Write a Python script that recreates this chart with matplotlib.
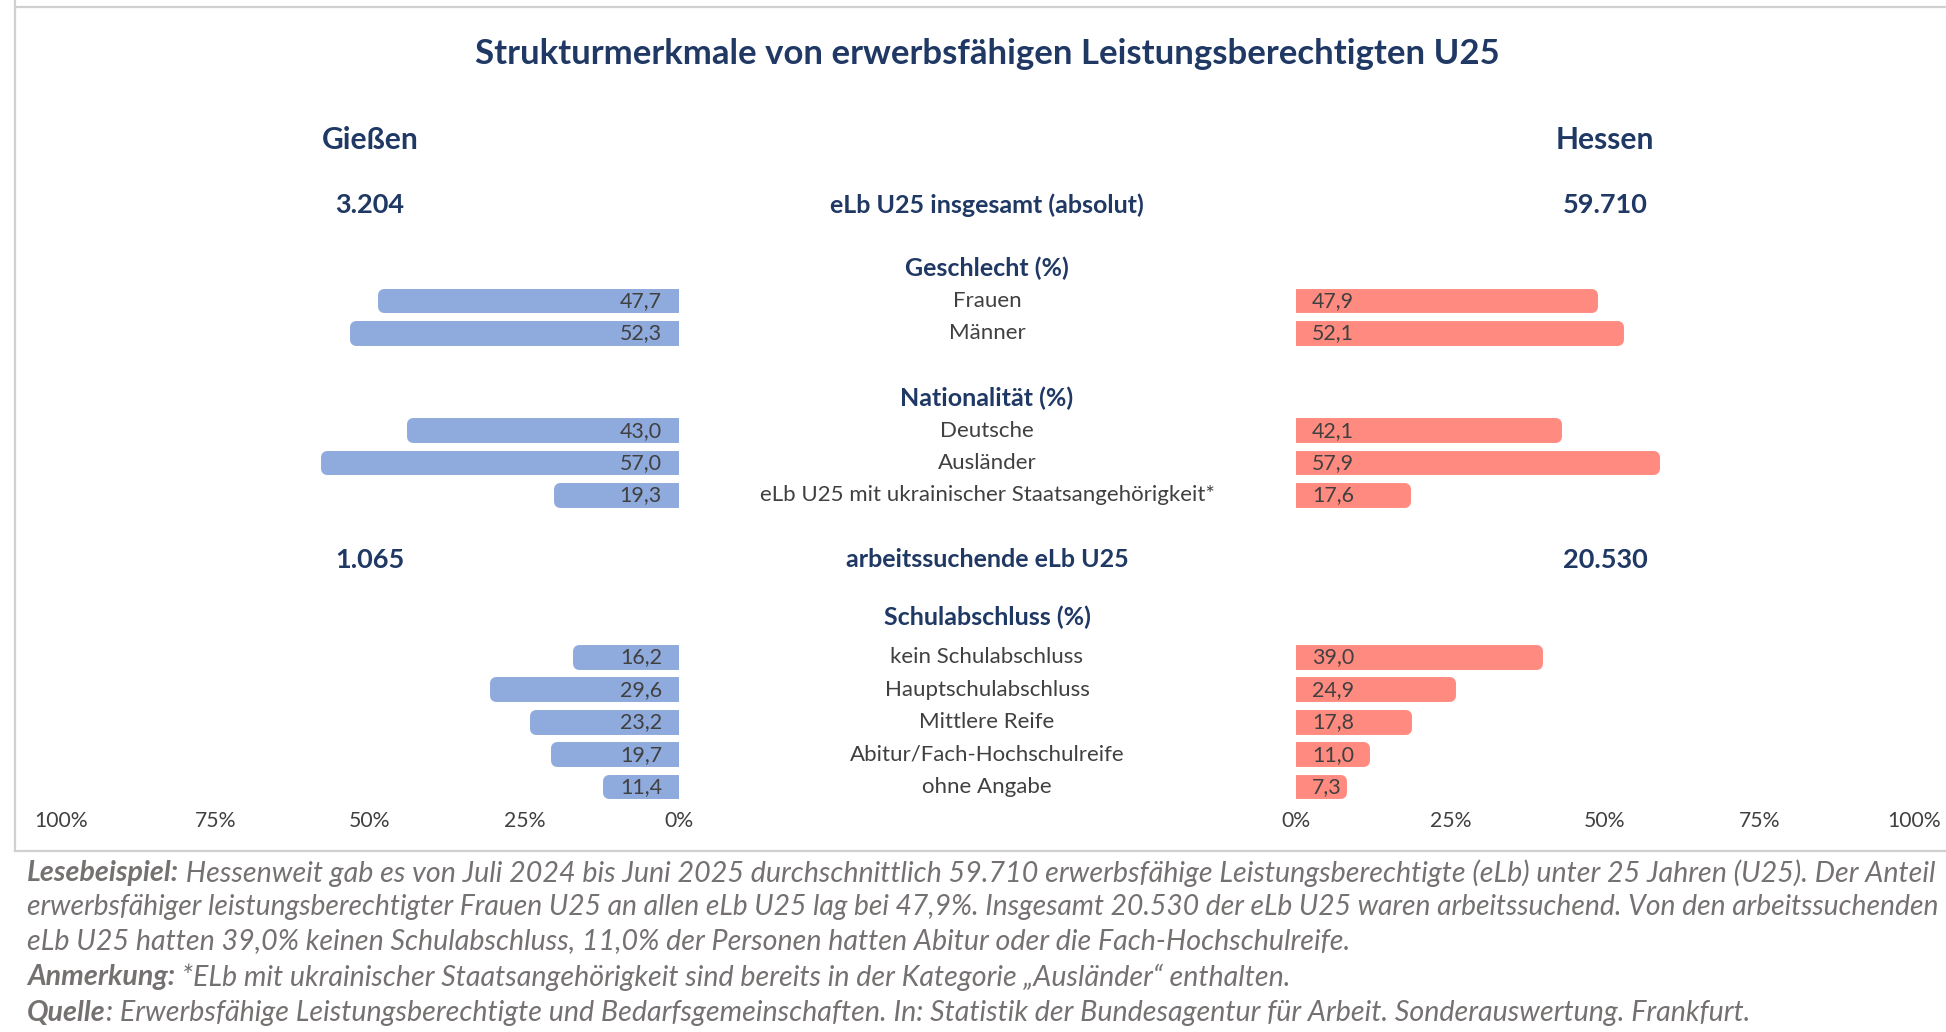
import matplotlib.pyplot as plt
from matplotlib.lines import Line2D
from matplotlib.transforms import blended_transform_factory

plt.rcParams['font.family'] = ['Lato', 'DejaVu Sans']

# Daten
regionen = ['Gießen', 'Hessen']
elb_gesamt = ['3.204', '59.710']
elb_arbeitssuchend = ['1.065', '20.530']

geschlecht_kat = ['Frauen', 'Männer']
geschlecht_giessen = [47.7, 52.3]
geschlecht_hessen = [47.9, 52.1]

nationalitaet_kat = ['Deutsche', 'Ausländer', 'eLb U25 mit ukrainischer Staatsangehörigkeit*']
nationalitaet_giessen = [43.0, 57.0, 19.3]
nationalitaet_hessen = [42.1, 57.9, 17.6]

schule_kat = ['kein Schulabschluss', 'Hauptschulabschluss', 'Mittlere Reife',
              'Abitur/Fach-Hochschulreife', 'ohne Angabe']
schule_giessen = [16.2, 29.6, 23.2, 19.7, 11.4]
schule_hessen = [39.0, 24.9, 17.8, 11.0, 7.3]

ticks = [0, 25, 50, 75, 100]

NAVY = '#1F3864'
GRAU = '#404040'
BLAU = '#8FAADC'
ROT = '#FF8B80'
FUSS = '#767171'

W, H = 1946, 1032
fig = plt.figure(figsize=(W / 100, H / 100), dpi=100)


def zeile(px):
    # Pixelhoehe -> Zeileneinheit (Frauen = 0)
    return (px - 301) / 32.4


oben, unten = 250, 810
ax_l = fig.add_axes([61 / W, 1 - unten / H, 618 / W, (unten - oben) / H])
ax_r = fig.add_axes([1296 / W, 1 - unten / H, 618 / W, (unten - oben) / H])
ax_l.set_xlim(100, 0)
ax_r.set_xlim(0, 100)

gruppen = [
    (0, geschlecht_kat, geschlecht_giessen, geschlecht_hessen),
    (4, nationalitaet_kat, nationalitaet_giessen, nationalitaet_hessen),
    (11, schule_kat, schule_giessen, schule_hessen),
]

trans = blended_transform_factory(fig.transFigure, ax_l.transData)
mitte = 987 / W
x_gi = 370 / W
x_he = 1605 / W

for start, kat, gi, he in gruppen:
    ys = [start + i for i in range(len(kat))]
    for ax, werte, farbe, dx, ha in [(ax_l, gi, BLAU, -17, 'right'),
                                     (ax_r, he, ROT, 16, 'left')]:
        bars = ax.barh(ys, werte, height=0.40, color=farbe, edgecolor=farbe,
                       linewidth=8.6)
        for b in bars:
            b.set_joinstyle('round')
        for y, v in zip(ys, werte):
            ax.annotate(f'{v:.1f}'.replace('.', ','), (0, y), xytext=(dx, 0),
                        textcoords='offset pixels', ha=ha, va='center',
                        fontsize=15.4, color=GRAU)
    for y, k in zip(ys, kat):
        fig.text(mitte, y, k, transform=trans, ha='center', va='center',
                 fontsize=16, color=GRAU)

for ax in (ax_l, ax_r):
    ax.set_ylim(zeile(unten), zeile(oben))
    for s in ax.spines.values():
        s.set_visible(False)
    ax.set_yticks([])
    ax.set_xticks(ticks)
    ax.set_xticklabels([f'{t}%' for t in ticks], fontsize=15.2, color=GRAU)
    ax.tick_params(axis='x', length=0, pad=1)
    ax.patch.set_alpha(0)

# Ueberschriften
kopf = dict(ha='center', va='center', color=NAVY, fontweight='bold')
fig.text(mitte, 1 - 54 / H, 'Strukturmerkmale von erwerbsfähigen Leistungsberechtigten U25',
         fontsize=25, **kopf)
fig.text(x_gi, 1 - 140 / H, regionen[0], fontsize=21.6, **kopf)
fig.text(x_he, 1 - 140 / H, regionen[1], fontsize=21.6, **kopf)

for y, txt in [(-2.96, 'eLb U25 insgesamt (absolut)'), (-1, 'Geschlecht (%)'),
               (3, 'Nationalität (%)'), (7.99, 'arbeitssuchende eLb U25'),
               (9.75, 'Schulabschluss (%)')]:
    fig.text(mitte, y, txt, transform=trans, fontsize=18, **kopf)

fig.text(x_gi, -2.96, elb_gesamt[0], transform=trans, fontsize=19.5, **kopf)
fig.text(x_he, -2.96, elb_gesamt[1], transform=trans, fontsize=19.5, **kopf)
fig.text(x_gi, 7.99, elb_arbeitssuchend[0], transform=trans, fontsize=19.5, **kopf)
fig.text(x_he, 7.99, elb_arbeitssuchend[1], transform=trans, fontsize=19.5, **kopf)

# Rahmen
linie = dict(color='#D0D0D0', linewidth=1.6, transform=fig.transFigure)
fig.add_artist(Line2D([15 / W, 15 / W], [1, 1 - 851 / H], **linie))
fig.add_artist(Line2D([15 / W, 1], [1 - 7 / H, 1 - 7 / H], **linie))
fig.add_artist(Line2D([15 / W, 1], [1 - 851 / H, 1 - 851 / H], **linie))

# Fusszeilen (die ersten beiden Zeilen sind im Original bis zum rechten Rand gesetzt)
fuss = [
    (873, 'Lesebeispiel:', ' Hessenweit gab es von Juli 2024 bis Juni 2025 durchschnittlich 59.710 '
     'erwerbsfähige Leistungsberechtigte (eLb) unter 25 Jahren (U25). Der Anteil', True),
    (907, '', 'erwerbsfähiger leistungsberechtigter Frauen U25 an allen eLb U25 lag bei 47,9%. '
     'Insgesamt 20.530 der eLb U25 waren arbeitssuchend. Von den arbeitssuchenden', True),
    (941, '', 'eLb U25 hatten 39,0% keinen Schulabschluss, 11,0% der Personen hatten Abitur '
     'oder die Fach-Hochschulreife.', False),
    (977, 'Anmerkung:', ' *ELb mit ukrainischer Staatsangehörigkeit sind bereits in der '
     'Kategorie „Ausländer“ enthalten.', False),
    (1013, 'Quelle', ': Erwerbsfähige Leistungsberechtigte und Bedarfsgemeinschaften. In: '
     'Statistik der Bundesagentur für Arbeit. Sonderauswertung. Frankfurt.', False),
]
renderer = fig.canvas.get_renderer()
fs_fuss = 20.6
x0, x_ende = 27, 1940
for y, fett, rest, bündig in fuss:
    teile = []
    if fett:
        teile.append(fig.text(x0 / W, 1 - y / H, fett, ha='left', va='center',
                              fontsize=fs_fuss, style='italic', fontweight='bold',
                              color=FUSS))
    teile.append(fig.text(x0 / W, 1 - y / H, rest, ha='left', va='center',
                          fontsize=fs_fuss, style='italic', color=FUSS))

    def setzen():
        x = x0
        for t in teile:
            t.set_x(x / W)
            x = t.get_window_extent(renderer=renderer).x1
        return x

    breite = setzen() - x0
    if bündig:
        for t in teile:
            t.set_fontsize(fs_fuss * (x_ende - x0) / breite)
        setzen()

fig.savefig('out.png', dpi=100)
